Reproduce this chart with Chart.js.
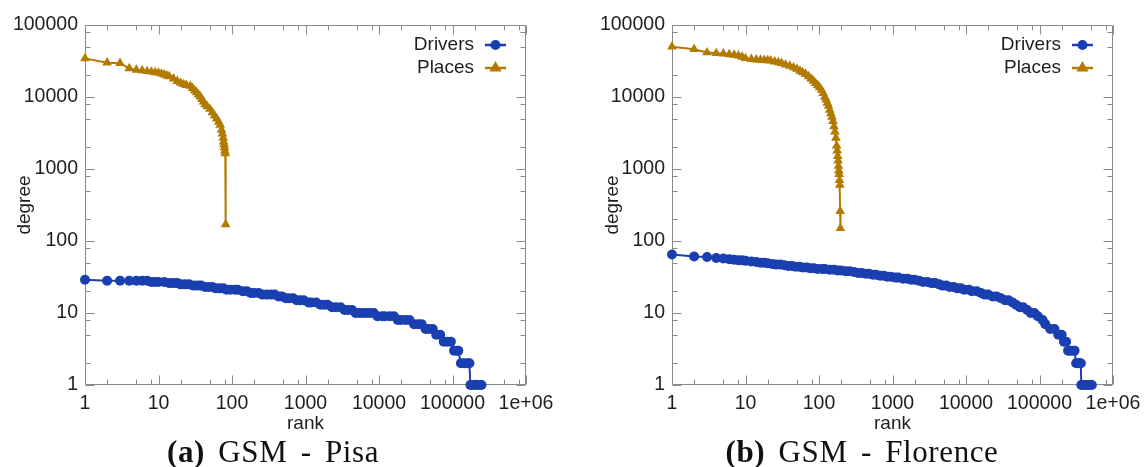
<!DOCTYPE html>
<html><head><meta charset="utf-8">
<script src="https://cdn.jsdelivr.net/npm/chart.js@4.4.1/dist/chart.umd.min.js"></script>
<style>
html,body{margin:0;padding:0;background:#fff;}
#wrap{position:relative;width:1148px;height:467px;overflow:hidden;background:#fff;}
canvas{position:absolute;top:0;}
.cap{position:absolute;top:436px;font-family:'Liberation Serif',serif;font-size:31px;line-height:31px;color:#111;white-space:nowrap;letter-spacing:0.6px;word-spacing:5px;transform:translateX(-50%);}
.cap b{font-weight:bold;}
</style></head><body>
<div id="wrap">
<canvas id="c1" width="574" height="467" style="left:0"></canvas>
<canvas id="c2" width="560" height="467" style="left:588px"></canvas>
<div class="cap" style="left:273px"><b>(a)</b> GSM - Pisa</div>
<div class="cap" style="left:862px"><b>(b)</b> GSM - Florence</div>
</div>
<script>
// ---- tick labels ----
const xTickValues = [1,10,100,1000,10000,100000,1000000];
const xTickLabels = ['1','10','100','1000','10000','100000','1e+06'];
const yTickValues = [1,10,100,1000,10000,100000];
const yTickLabels = ['1','10','100','1000','10000','100000'];
const minorSteps = [2,5,8];
const seriesNames = ['Drivers','Places'];
const xTitle = 'rank';
const yTitle = 'degree';

// ---- (a) GSM - Pisa ----
const pisaDriverRanks = [1,2,3,4,5,6,7,8,9,10,12,14,16,18,20,23,26,30,34,38,43,48,54,60,68,76,85,95,110,120,140,160,180,200,230,260,300,340,380,430,480,540,600,680,760,850,950,1100,1200,1400,1600,1800,2000,2300,2600,3000,3400,3800,4300,4800,5400,6000,6800,7600,8500,9500,11000,12000,14000,16000,18000,20000,23000,26000,30000,34000,38000,43000,48000,54000,60000,68000,76000,85000,95000,105000,115000,120000,130000,145000,160000,170000,175000,190000,210000,230000,248000];
const pisaDriverDegrees = [29,28,28,28,28,28,28,27,27,27,27,26,26,26,25,25,25,24,24,24,23,23,23,22,22,22,21,21,21,21,20,20,19,19,19,18,18,18,18,17,17,16,16,16,15,15,15,14,14,14,13,13,13,12,12,12,11,11,11,10,10,10,10,10,10,9,9,9,9,9,8,8,8,8,7,7,7,6,6,6,5,5,4,4,4,3,3,3,2,2,2,2,1,1,1,1,1];
const pisaPlaceRanks = [1,2,3,4,5,6,7,8,9,10,11,12,13,14,16,18,20,22,24,27,29,31,33,35,37,39,41,43,46,50,54,58,62,66,69,72,74,76,77,78,79,80,81,82];
const pisaPlaceDegrees = [34400,30000,29500,24900,23800,23300,22800,22400,22000,21700,21000,20400,19800,19300,18000,16600,15700,15000,14600,14200,13300,12300,11600,10800,10100,9300,8600,7900,7400,6800,6100,5500,5000,4500,4100,3500,3100,2700,2400,2200,2000,1800,1650,170];

// ---- (b) GSM - Florence ----
const floDriverRanks = [1,2,3,4,5,6,7,8,9,10,12,14,16,18,20,23,26,30,34,38,43,48,54,60,68,76,85,95,110,120,140,160,180,200,230,260,300,340,380,430,480,540,600,680,760,850,950,1100,1200,1400,1600,1800,2000,2300,2600,3000,3400,3800,4300,4800,5400,6000,6800,7600,8500,9500,11000,12000,14000,16000,18000,20000,23000,26000,30000,34000,38000,43000,48000,54000,60000,68000,76000,85000,95000,110000,120000,140000,160000,180000,200000,215000,230000,245000,260000,280000,300000,315000,330000,350000,365000,370000,390000,420000,450000,480000,515000];
const floDriverDegrees = [65,61,60,58,57,56,55,54,54,53,52,51,50,50,49,48,47,47,46,45,45,44,44,43,43,42,42,41,41,41,40,40,39,39,38,38,37,36,36,35,35,34,34,33,33,32,32,31,31,30,30,29,29,28,27,27,26,26,25,24,24,23,23,22,22,21,21,20,20,19,18,18,17,17,16,15,15,14,13,12,12,11,10,10,9,8,7,6,6,5,5,4,4,3,3,3,3,2,2,2,2,1,1,1,1,1,1];
const floPlaceRanks = [1,2,3,4,5,6,7,8,9,10,12,14,16,18,20,22,25,28,31,35,40,45,50,55,60,66,72,78,84,90,96,102,108,114,120,125,130,135,140,145,150,155,160,165,170,174,177,180,182,184,186,188,190,192,194,196];
const floPlaceDegrees = [50000,46000,41500,40500,40000,39000,38500,37500,36000,34500,33500,33000,32800,32500,32300,32000,31000,30300,29500,28000,27000,25700,24500,23000,22000,20800,19300,18000,16700,15500,14500,13600,12500,11300,10000,9200,8300,7500,6600,5900,5300,4600,3900,3300,2700,2100,1800,1500,1300,1100,950,850,700,600,260,150];

const BLUE = '#1a3fb0';
const GOLD = '#b27a00';
const FRAME = '#8a8a8a';
const TEXT = '#1e1e1e';

Chart.defaults.font.family = '"Liberation Sans", Arial, sans-serif';
Chart.defaults.font.size = 19;
Chart.defaults.color = TEXT;

function pts(r, d) { return r.map((v, i) => ({ x: v, y: d[i] })); }

const framePlugin = {
  id: 'gnuframe',
  beforeDatasetsDraw(chart) {
    const { ctx, chartArea: a, scales: { x, y } } = chart;
    const L = Math.round(a.left) + 0.5, R = Math.round(a.right) - 0.5;
    const T = Math.round(a.top) + 0.5, B = Math.round(a.bottom) - 0.5;
    ctx.save();
    ctx.strokeStyle = FRAME; ctx.lineWidth = 1;
    ctx.beginPath();
    ctx.rect(L, T, R - L, B - T);
    const tx = (v, len) => { const p = Math.round(x.getPixelForValue(v)) + 0.5; ctx.moveTo(p, B); ctx.lineTo(p, B - len); ctx.moveTo(p, T); ctx.lineTo(p, T + len); };
    const ty = (v, len) => { const p = Math.round(y.getPixelForValue(v)) + 0.5; ctx.moveTo(L, p); ctx.lineTo(L + len, p); ctx.moveTo(R, p); ctx.lineTo(R - len, p); };
    xTickValues.forEach((v, i) => { tx(v, 9); if (i < xTickValues.length - 1) minorSteps.forEach(m => tx(v * m, 5)); });
    yTickValues.forEach((v, i) => { ty(v, 9); if (i < yTickValues.length - 1) minorSteps.forEach(m => ty(v * m, 5)); });
    ctx.stroke();
    ctx.restore();
  },
  afterDraw(chart) {
    const { ctx, chartArea: a } = chart;
    ctx.save();
    chart.data.datasets.forEach((ds, i) => {
      const yy = a.top + 20 + i * 23;
      ctx.font = '19px "Liberation Sans", Arial, sans-serif';
      ctx.fillStyle = TEXT; ctx.textAlign = 'right'; ctx.textBaseline = 'middle';
      ctx.fillText(ds.label, a.right - 52, yy);
      ctx.strokeStyle = ds.borderColor; ctx.lineWidth = 2.5;
      ctx.beginPath(); ctx.moveTo(a.right - 41, yy); ctx.lineTo(a.right - 20, yy); ctx.stroke();
      ctx.fillStyle = ds.borderColor; ctx.strokeStyle = ds.borderColor;
      const cx = a.right - 30.5;
      if (Chart.helpers && Chart.helpers.drawPoint) {
        Chart.helpers.drawPoint(ctx, { pointStyle: ds.pointStyle, radius: ds.pointStyle === 'circle' ? 3.8 : 4.5, borderWidth: 1, rotation: 0 }, cx, yy);
      } else {
        ctx.beginPath(); ctx.arc(cx, yy, 3.8, 0, Math.PI * 2); ctx.fill();
      }
    });
    ctx.restore();
  }
};

function makeChart(id, dR, dD, pR, pD, yWidth, rightPad) {
  const axisCommon = {
    type: 'logarithmic',
    grid: { display: false, drawTicks: false },
    border: { display: false },
  };
  return new Chart(document.getElementById(id), {
    type: 'line',
    data: {
      datasets: [
        { label: seriesNames[0], data: pts(dR, dD), borderColor: BLUE, backgroundColor: BLUE, borderWidth: 2,
          pointStyle: 'circle', pointRadius: 5, pointHoverRadius: 5, pointBorderWidth: 0, tension: 0, clip: false },
        { label: seriesNames[1], data: pts(pR, pD), borderColor: GOLD, backgroundColor: GOLD, borderWidth: 2,
          pointStyle: 'triangle', pointRadius: 5.6, pointHoverRadius: 5.6, pointBorderWidth: 0, tension: 0, clip: false }
      ]
    },
    options: {
      responsive: false, animation: false, events: [],
      layout: { padding: { left: 0, right: rightPad, top: 25, bottom: 32 } },
      plugins: { legend: { display: false }, tooltip: { enabled: false } },
      scales: {
        x: Object.assign({}, axisCommon, {
          position: 'bottom', min: 1, max: 1000000,
          ticks: { autoSkip: false, maxRotation: 0, minRotation: 0, padding: 7, color: TEXT, font: { size: 19.5 },
                   callback: (v, i) => xTickLabels[i] },
          afterBuildTicks: s => { s.ticks = xTickValues.map(v => ({ value: v })); },
          afterFit: s => { s.height = 50; },
          title: { display: true, text: xTitle, color: TEXT, font: { size: 19 }, padding: { top: 0, bottom: 0 } }
        }),
        y: Object.assign({}, axisCommon, {
          position: 'left', min: 1, max: 100000,
          ticks: { autoSkip: false, padding: 7, color: TEXT, font: { size: 19.5 },
                   callback: (v, i) => yTickLabels[i] },
          afterBuildTicks: s => { s.ticks = yTickValues.map(v => ({ value: v })); },
          afterFit: s => { s.width = yWidth; },
          title: { display: true, text: yTitle, color: TEXT, font: { size: 19 }, padding: { top: 13.6, bottom: 0 } }
        })
      }
    },
    plugins: [framePlugin]
  });
}

makeChart('c1', pisaDriverRanks, pisaDriverDegrees, pisaPlaceRanks, pisaPlaceDegrees, 85, 48);
makeChart('c2', floDriverRanks, floDriverDegrees, floPlaceRanks, floPlaceDegrees, 84, 35);
</script>
</body></html>
